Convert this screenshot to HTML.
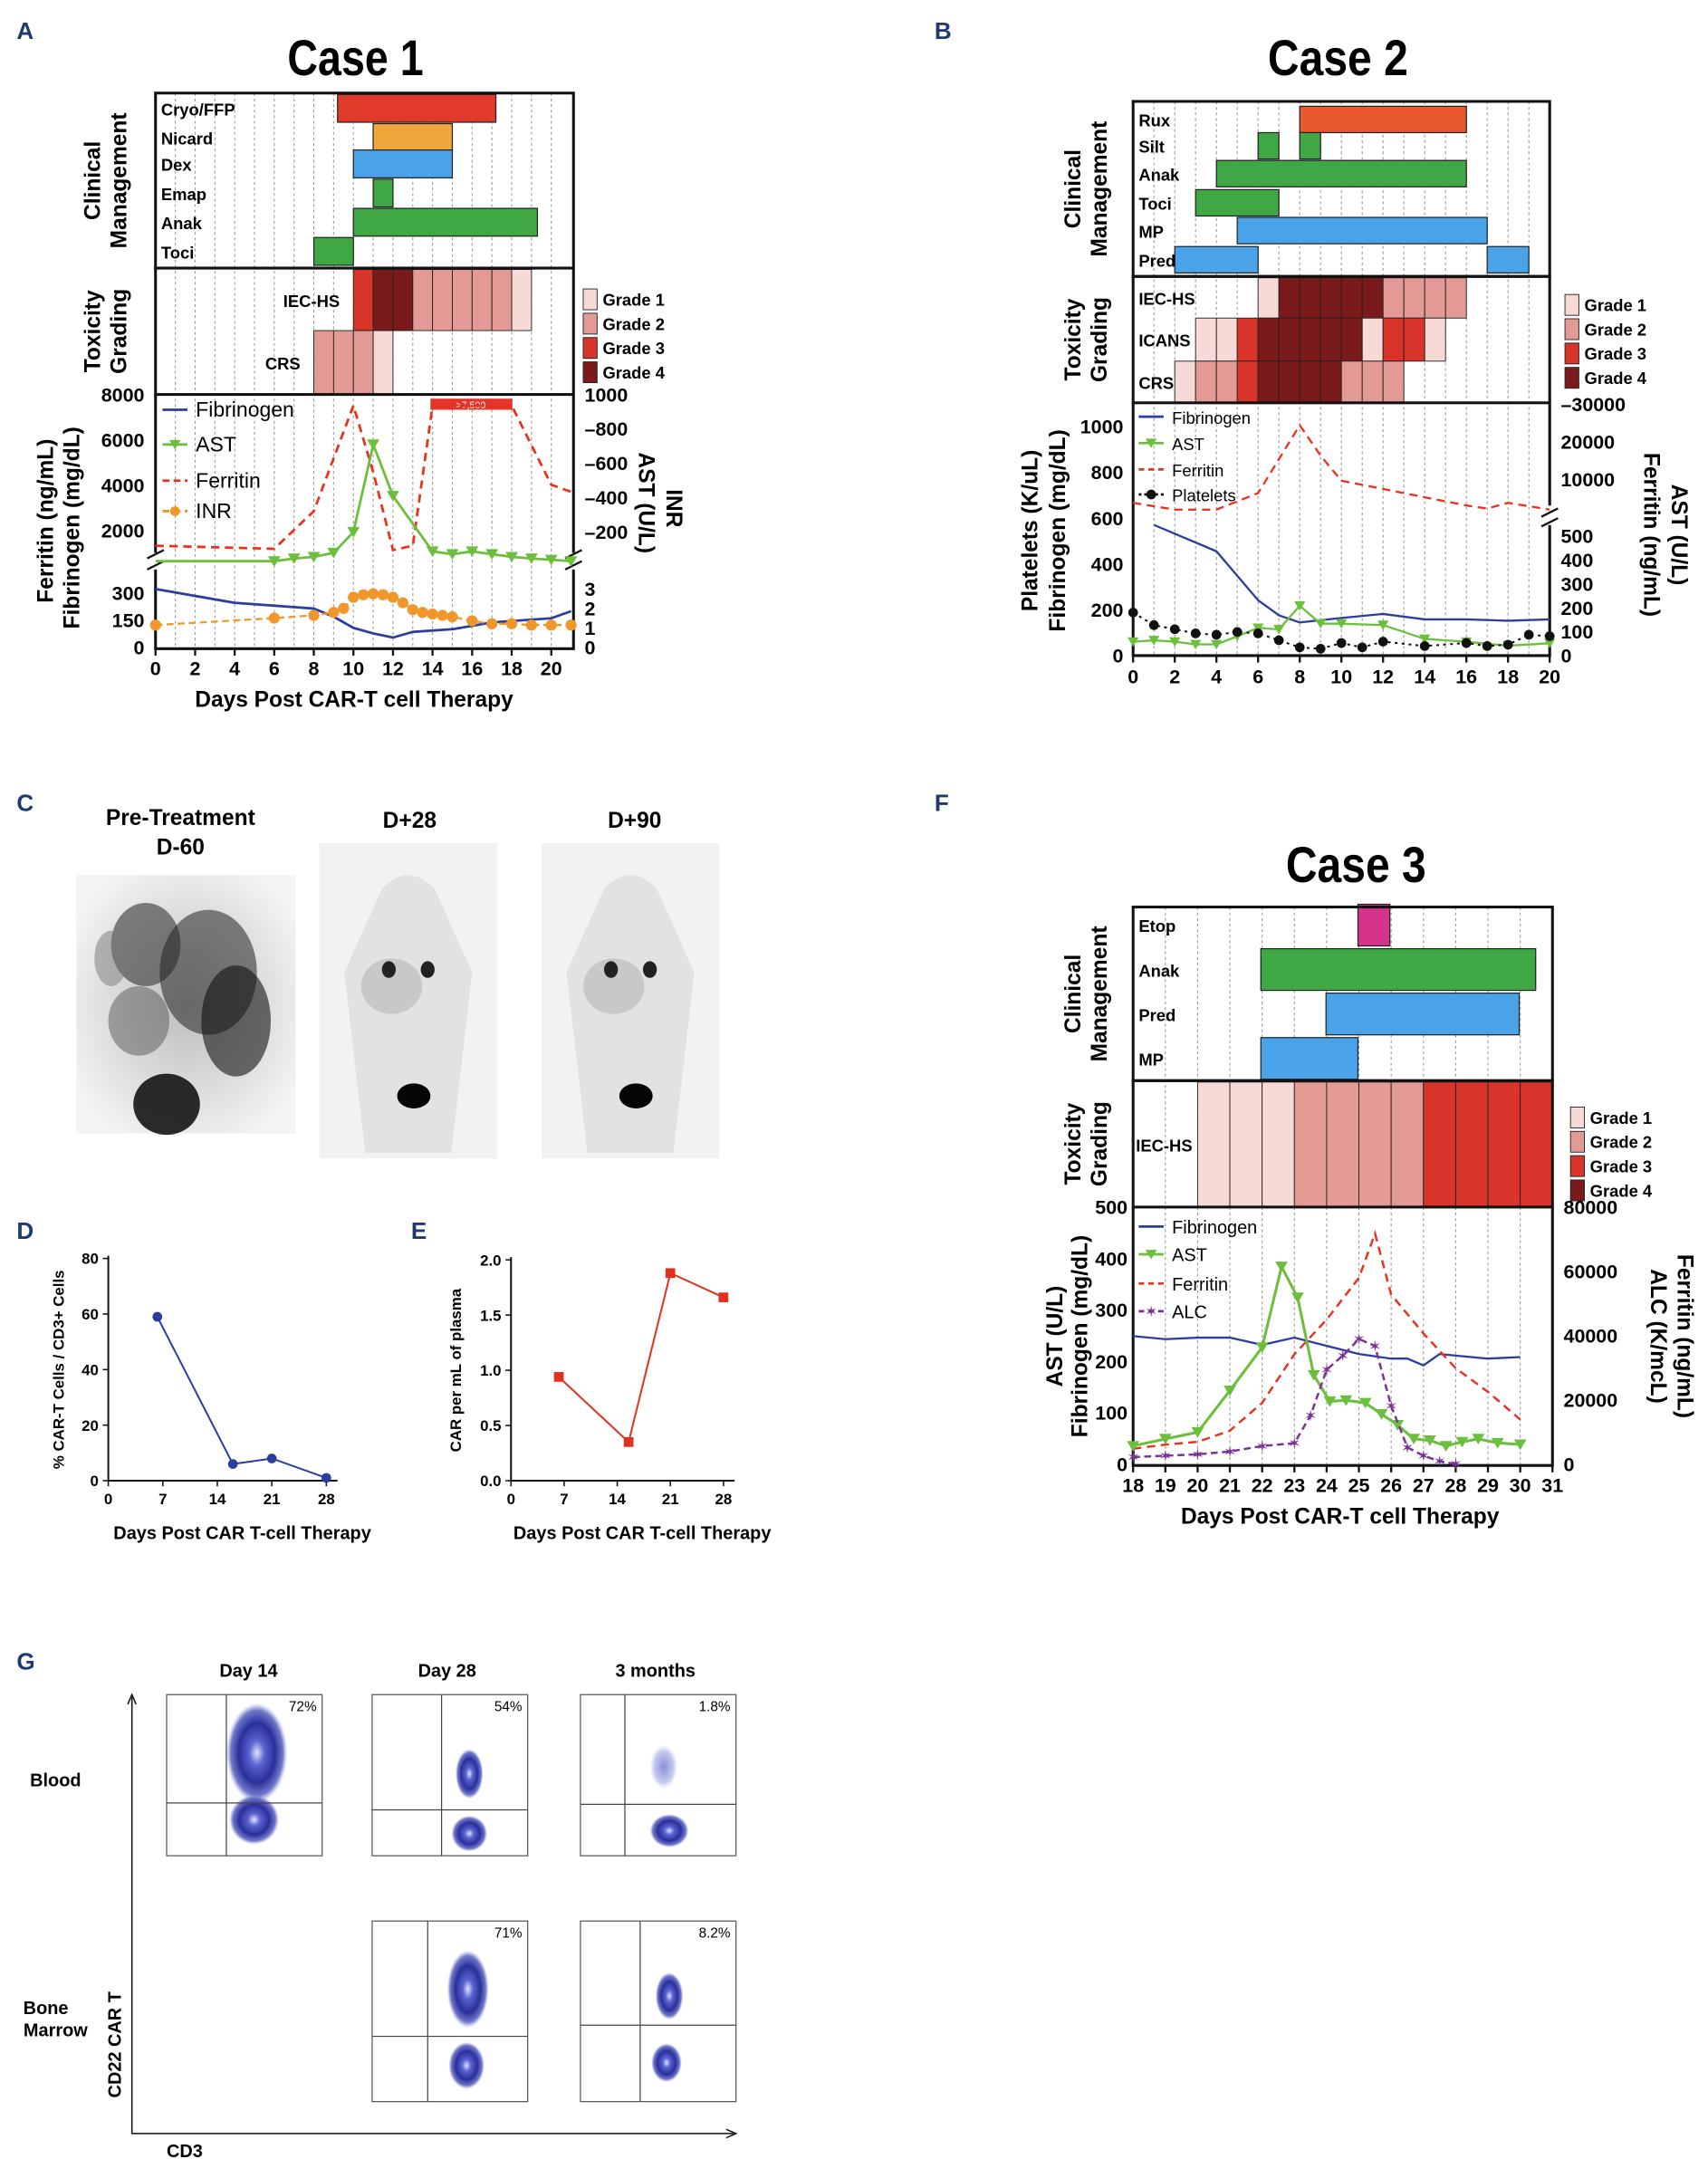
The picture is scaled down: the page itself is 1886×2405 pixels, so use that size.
<!DOCTYPE html>
<html><head><meta charset="utf-8"><style>
html,body{margin:0;padding:0;background:#fff}
svg{display:block}
text{font-family:"Liberation Sans",sans-serif}
.b{font-weight:bold}
</style></head><body>
<svg id="fig" xmlns="http://www.w3.org/2000/svg" width="1886" height="2405" viewBox="0 0 1230 1568" preserveAspectRatio="none">
<defs>
<radialGradient id="blob" cx="50%" cy="50%" r="50%">
<stop offset="0%" stop-color="#dfe3ff"/><stop offset="25%" stop-color="#5a63d0"/><stop offset="60%" stop-color="#2a2f9a"/><stop offset="85%" stop-color="#4c55bb" stop-opacity="0.8"/><stop offset="100%" stop-color="#8a90d8" stop-opacity="0"/>
</radialGradient>
<radialGradient id="blobL" cx="50%" cy="50%" r="50%">
<stop offset="0%" stop-color="#6a72cf" stop-opacity="0.8"/><stop offset="70%" stop-color="#8b92da" stop-opacity="0.5"/><stop offset="100%" stop-color="#b0b5e8" stop-opacity="0"/>
</radialGradient>
<radialGradient id="pet" cx="50%" cy="50%" r="60%">
<stop offset="0%" stop-color="#bdbdbd"/><stop offset="100%" stop-color="#f4f4f4"/>
</radialGradient>
</defs>
<g id="letters" class="b" font-size="17" fill="#1f3a6e">
<text x="12" y="28">A</text>
<text x="673" y="28">B</text>
<text x="12" y="584">C</text>
<text x="673" y="584">F</text>
<text x="12" y="892">D</text>
<text x="296" y="892">E</text>
<text x="12" y="1202">G</text>
</g>
<text x="207" y="54" font-size="36" class="b" textLength="98" lengthAdjust="spacingAndGlyphs">Case 1</text>
<text x="913" y="54" font-size="36" class="b" textLength="101" lengthAdjust="spacingAndGlyphs">Case 2</text>
<text x="926" y="635" font-size="36" class="b" textLength="101" lengthAdjust="spacingAndGlyphs">Case 3</text>
<g id="chartlayer"></g>
</svg>
<script>
// ---------------- DATA ----------------
const gradeColors=['#fff','#f7d9d6','#e49a94','#d8342a','#7a1a1a'];
// Case 1
const aMgmtRows=['Cryo/FFP','Nicard','Dex','Emap','Anak','Toci'];
const aMgmtBars=[[[9.2,17.2]],[[11,15]],[[10,15]],[[11,12]],[[10,19.3]],[[8,10]]];
const aToxRows=['IEC-HS','CRS'];
const aToxStart=[10,8];
const aToxGrades=[[3,4,4,2,2,2,2,2,1],[2,2,2,1]];
const aXTicks=[0,2,4,6,8,10,12,14,16,18,20];
const aFerDays=[0,6,8,10,11,12,13,14,18,20,21];
const aFerVals=[1330,1200,2860,7510,4570,1140,1330,7510,7510,4020,3710];
const aAstDays=[0,6,7,8,9,10,11,12,14,15,16,17,18,19,20,21];
const aAstVals=[30,30,46,55,79,200,709,410,87,71,87,71,55,46,38,30];
const aFibDays=[0,4,8,9,10,11,12,13,15,17,20,21];
const aFibVals=[323,246,215,169,108,77,54,85,100,138,161,200];
const aInrDays=[0,6,8,9,9.5,10,10.5,11,11.5,12,12.5,13,13.5,14,14.5,15,16,17,18,19,20,21];
const aInrVals=[1.14,1.5,1.64,1.79,2.0,2.57,2.7,2.75,2.7,2.57,2.29,1.93,1.79,1.71,1.64,1.57,1.36,1.21,1.21,1.14,1.14,1.14];
const aLeftTicksHi=[8000,6000,4000,2000];
const aLeftTicksLo=[300,150,0];
const aRightTicksHi=[1000,800,600,400,200];
const aRightTicksLo=[3,2,1,0];
// Case 2
const bMgmtRows=['Rux','Silt','Anak','Toci','MP','Pred'];
const bMgmtBars=[[[8,16]],[[6,7],[8,9]],[[4,16]],[[3,7]],[[5,17]],[[2,6],[17,19]]];
const bMgmtColors=['#e8572f','#3fa845','#3fa845','#3fa845','#4aa3e8','#4aa3e8'];
const bToxRows=['IEC-HS','ICANS','CRS'];
const bToxStart=[6,3,2];
const bToxGrades=[[1,4,4,4,4,4,2,2,2,2],[1,1,3,4,4,4,4,4,1,3,3,1],[1,2,2,3,4,4,4,4,2,2,2]];
const bXTicks=[0,2,4,6,8,10,12,14,16,18,20];
const bFibDays=[1,4,6,7,8,10,12,14,16,18,20];
const bFibVals=[570,455,242,176,145,164,182,158,158,152,158];
const bFerDays=[0,2,4,6,8,9,10,12,14,16,17,18,20];
const bFerVals=[3700,1900,1900,6300,24400,16300,9600,7400,5200,3000,2200,3700,1900];
const bAstDays=[0,1,2,3,4,5,6,7,8,9,10,12,14,16,18,20];
const bAstVals=[58,64,58,47,47,81,116,110,209,134,134,128,70,58,41,52];
const bPltDays=[0,1,2,3,4,5,6,7,8,9,10,11,12,14,16,17,18,19,20];
const bPltVals=[188,133,115,97,91,103,97,67,36,30,55,36,61,42,55,42,48,91,85];
const bLeftTicks=[1000,800,600,400,200,0];
const bRightTicksHi=[30000,20000,10000];
const bRightTicksLo=[500,400,300,200,100,0];
// Case 3
const fMgmtRows=['Etop','Anak','Pred','MP'];
const fMgmtBars=[[[24.97,25.96]],[[21.96,30.48]],[[23.98,29.97]],[[21.96,24.97]]];
const fMgmtColors=['#d6338a','#3fa845','#4aa3e8','#4aa3e8'];
const fToxStart=20;
const fToxGrades=[1,1,1,2,2,2,2,3,3,3,3];
const fXTicks=[18,19,20,21,22,23,24,25,26,27,28,29,30,31];
const fFibDays=[18,19,20,21,22,23,24,25,26,26.5,27,27.5,28,29,30];
const fFibVals=[249,243,246,246,232,246,230,214,205,205,192,214,211,205,208];
const fAstDays=[18,19,20,21,22,22.6,23.1,23.6,24.1,24.6,25.2,25.7,26.2,26.7,27.2,27.7,28.2,28.7,29.3,30];
const fAstVals=[35,49,62,143,227,384,324,173,122,124,119,97,76,49,46,35,43,49,41,38];
const fFerDays=[18,19,20,21,22,23,24,25,25.5,26,27,28,29,30];
const fFerVals=[4760,6050,6920,10380,19030,34160,44970,57950,71780,52760,40650,29840,22490,13840];
const fAlcDays=[18,19,20,21,22,23,23.5,24,24.5,25,25.5,26,26.5,27,27.5,28];
const fAlcVals=[2160,2590,3030,3890,5620,6490,15140,29410,33730,38920,36760,18160,5190,2590,860,0];
const fLeftTicks=[500,400,300,200,100,0];
const fRightTicks=[80000,60000,40000,20000,0];
// D / E
const dDays=[6.3,16,21,28];
const dVals=[59,6,8,1];
const dYTicks=[0,20,40,60,80];
const eDays=[6.3,15.5,21,28];
const eVals=[0.94,0.35,1.88,1.66];
const eYTicks=[0.0,0.5,1.0,1.5,2.0];
const deXTicks=[0,7,14,21,28];
// G
const gPct=['72%','54%','1.8%','71%','8.2%'];

// ---------------- HELPERS ----------------
const NS='http://www.w3.org/2000/svg';
const root=document.getElementById('chartlayer');
function mk(tag,a){const e=document.createElementNS(NS,tag);for(const k in a)e.setAttribute(k,a[k]);root.appendChild(e);return e;}
function txt(x,y,s,size,anchor,extra){const e=mk('text',Object.assign({x:x,y:y,'font-size':size,'text-anchor':anchor||'start','font-weight':'bold'},extra||{}));e.textContent=s;return e;}
function pathD(pts){return pts.map((p,i)=>(i?'L':'M')+p[0].toFixed(1)+','+p[1].toFixed(1)).join(' ');}
let e;

function timeline(cfg){
  const {x,x0,x1,yM0,yM1,yT1,rows,bars,colors,rowY,barH,toxRows,toxStart,toxGrades,toxRowY,nDays,d0,legX,legY,pfx}=cfg;
  for(let d=d0+1; d<d0+nDays; d++){
    e=mk('line',{x1:x(d),x2:x(d),y1:yM0,y2:cfg.yGridEnd,stroke:'#999','stroke-width':0.7,'stroke-dasharray':'2,2'});
    
    
  }
  rows.forEach((r,i)=>{
    bars[i].forEach(b=>{
      e=mk('rect',{x:x(b[0]),y:rowY[i]-barH/2,width:x(b[1])-x(b[0]),height:barH,fill:colors[i],stroke:'#222','stroke-width':0.8});
      
      
    });
    e=txt(x0+4,rowY[i]+5,r,12);
    
    
  });
  toxRows.forEach((r,i)=>{
    const [t0,t1]=toxRowY[i];
    toxGrades[i].forEach((g,j)=>{
      const d=toxStart[i]+j;
      e=mk('rect',{x:x(d),y:t0,width:x(d+1)-x(d),height:t1-t0,fill:gradeColors[g],stroke:'#222','stroke-width':0.6});
      
      
    });
    e=txt(cfg.toxLabelX[i],(t0+t1)/2+5,r,12);
    
    
  });
  e=mk('rect',{x:x0,y:yM0,width:x1-x0,height:yM1-yM0,fill:'none',stroke:'#111','stroke-width':2});
  
  
  e=mk('rect',{x:x0,y:yM1,width:x1-x0,height:yT1-yM1,fill:'none',stroke:'#111','stroke-width':2});
  
  
  for(let g=1; g<=4; g++){
    e=mk('rect',{x:legX,y:legY+(g-1)*17.5-6,width:10,height:15,fill:gradeColors[g],stroke:'#222','stroke-width':0.6});
    
    
    e=txt(legX+14,legY+(g-1)*17.5+6,'Grade '+g,12);
    
    
  }
  const lx=cfg.labX;
  [['Clinical','Management',(yM0+yM1)/2],['Toxicity','Grading',(yM1+yT1)/2]].forEach(l=>{
    e=txt(lx,l[2],l[0],16,'middle',{transform:`rotate(-90 ${lx} ${l[2]})`});
    
    
    e=txt(lx+19,l[2],l[1],16,'middle',{transform:`rotate(-90 ${lx+19} ${l[2]})`});
    
    
  });
}
function series(pts,color,dash,pfx,name,width){
  e=mk('path',{d:pathD(pts),fill:'none',stroke:color,'stroke-width':width||1.8,'stroke-dasharray':dash||'none'});
  
  
}
function tri(px,py,color,pfx,name,s){
  s=s||4.5;
  e=mk('path',{d:`M${px-s},${py-s*0.8} L${px+s},${py-s*0.8} L${px},${py+s*0.9} Z`,fill:color});
  
  
}
function dot(px,py,r,color,pfx,name){
  e=mk('circle',{cx:px,cy:py,r:r,fill:color});
  
  
}
function legendItem(x,y,label,color,dash,marker,size,pfx){
  e=mk('line',{x1:x,x2:x+18,y1:y,y2:y,stroke:color,'stroke-width':1.8,'stroke-dasharray':dash||'none'});
  
  
  if(marker==='tri')tri(x+9,y,color,pfx,'legend',4);
  if(marker==='dot')dot(x+9,y,3.5,color,pfx,'legend');
  if(marker==='star'){e=txt(x+9,y+4,'✶',11,'middle',{fill:color,'font-weight':'normal'});}
  e=txt(x+24,y+5,label,size,'start',{'font-weight':'normal'});
  
  
}

// ---------------- CASE 1 ----------------
const xA=d=>112+d*14.25;
const yAFer=v=>284+(8000-v)*0.016333;
const yAAst=v=>284+(1000-v)*0.12375;
const yAFib=v=>466-v*0.13;
const yAInr=v=>466-v*14;
timeline({x:xA,x0:112,x1:413,yM0:67,yM1:193,yT1:284,yGridEnd:467,rows:aMgmtRows,bars:aMgmtBars,
  colors:['#e03a2a','#f0a63a','#4aa3e8','#3fa845','#3fa845','#3fa845'],rowY:[78,99,118,139,160,181],barH:20,
  toxRows:aToxRows,toxStart:aToxStart,toxGrades:aToxGrades,toxRowY:[[194,238],[238,284]],toxLabelX:[204,191],
  nDays:21,d0:0,legX:420,legY:214,labX:72,pfx:'case1'});
e=mk('path',{d:'M112,284 L112,398 M112,410 L112,467 L413,467 L413,410 M413,398 L413,284',fill:'none',stroke:'#111','stroke-width':2});


e=mk('path',{d:'M106,402 L118,396 M106,410 L118,404 M407,402 L419,396 M407,410 L419,404',stroke:'#111','stroke-width':1.5});


aXTicks.forEach(t=>{e=txt(xA(t),486,String(t),14,'middle');
  e=mk('line',{x1:xA(t),x2:xA(t),y1:467,y2:472,stroke:'#111','stroke-width':1.5});});
aLeftTicksHi.forEach(t=>{e=txt(104,yAFer(t)+5,String(t),14,'end');});
aLeftTicksLo.forEach(t=>{e=txt(104,yAFib(t)+5,String(t),14,'end');});
aRightTicksHi.forEach(t=>{e=txt(421,yAAst(t)+5,(t===1000?'':'–')+t,14,'start');});
aRightTicksLo.forEach(t=>{e=txt(421,yAInr(t)+5,String(t),14,'start');});
e=txt(255,509,'Days Post CAR-T cell Therapy',16,'middle');
e=txt(38,375,'Ferritin (ng/mL)',16,'middle',{transform:'rotate(-90 38 375)'});
e=txt(57,380,'Fibrinogen (mg/dL)',16,'middle',{transform:'rotate(-90 57 380)'});
e=txt(460,362,'AST (U/L)',16,'middle',{transform:'rotate(90 460 362)'});
e=txt(480,366,'INR',16,'middle',{transform:'rotate(90 480 366)'});
e=mk('rect',{x:310,y:287,width:59,height:8,fill:'#e5342a'});
e=txt(339,294,'>7,500',7,'middle',{fill:'#fff','font-weight':'normal'});
series(aFerDays.map((d,i)=>[xA(d),yAFer(aFerVals[i])]),'#e8321e','6,4','case1','ferritin');
series(aFibDays.map((d,i)=>[xA(d),yAFib(aFibVals[i])]),'#2b3ea0',null,'case1','fibrinogen');
series(aAstDays.map((d,i)=>[xA(d),yAAst(aAstVals[i])]),'#6cbf3c',null,'case1','ast');
aAstDays.forEach((d,i)=>{if(d>=6)tri(xA(d),yAAst(aAstVals[i]),'#6cbf3c','case1','ast');});
series(aInrDays.map((d,i)=>[xA(d),yAInr(aInrVals[i])]),'#f0962a','5,3','case1','inr',1.5);
aInrDays.forEach((d,i)=>dot(xA(d),yAInr(aInrVals[i]),4,'#f0962a','case1','inr'));
legendItem(117,295,'Fibrinogen','#2b3ea0',null,null,15,'case1');
legendItem(117,320,'AST','#6cbf3c',null,'tri',15,'case1');
legendItem(117,346,'Ferritin','#e8321e','5,3',null,15,'case1');
legendItem(117,368,'INR','#f0962a','5,3','dot',15,'case1');

// ---------------- CASE 2 ----------------
const xB=d=>816+d*15;
const yBL=v=>472-v*0.165;
const yBRlo=v=>472-v*0.172;
const yBRhi=v=>291+(30000-v)*0.0027;
timeline({x:xB,x0:816,x1:1116,yM0:73,yM1:199,yT1:290,yGridEnd:472,rows:bMgmtRows,bars:bMgmtBars,
  colors:bMgmtColors,rowY:[86,105,125,146,166,187],barH:19,
  toxRows:bToxRows,toxStart:bToxStart,toxGrades:bToxGrades,toxRowY:[[200,229],[229,260],[260,290]],toxLabelX:[820,820,820],
  nDays:20,d0:0,legX:1127,legY:218,labX:778,pfx:'case2'});
e=mk('path',{d:'M816,290 L816,472 L1116,472 L1116,378 M1116,364 L1116,290',fill:'none',stroke:'#111','stroke-width':2});


e=mk('path',{d:'M1110,372 L1122,366 M1110,379 L1122,373',stroke:'#111','stroke-width':1.5});


bXTicks.forEach(t=>{e=txt(xB(t),492,String(t),14,'middle');
  e=mk('line',{x1:xB(t),x2:xB(t),y1:472,y2:477,stroke:'#111','stroke-width':1.5});});
bLeftTicks.forEach(t=>{e=txt(809,yBL(t)+5,String(t),14,'end');});
bRightTicksHi.forEach(t=>{e=txt(1124,yBRhi(t)+5,(t===30000?'–':'')+t,14,'start');});
bRightTicksLo.forEach(t=>{e=txt(1124,yBRlo(t)+5,String(t),14,'start');});
e=txt(747,382,'Platelets (K/uL)',16,'middle',{transform:'rotate(-90 747 382)'});
e=txt(767,382,'Fibrinogen (mg/dL)',16,'middle',{transform:'rotate(-90 767 382)'});
e=txt(1184,385,'Ferritin (ng/mL)',16,'middle',{transform:'rotate(90 1184 385)'});
e=txt(1204,385,'AST (U/L)',16,'middle',{transform:'rotate(90 1204 385)'});
series(bFerDays.map((d,i)=>[xB(d),yBRhi(bFerVals[i])]),'#e8321e','6,4','case2','ferritin',1.5);
series(bFibDays.map((d,i)=>[xB(d),yBL(bFibVals[i])]),'#2b3ea0',null,'case2','fibrinogen',1.5);
series(bAstDays.map((d,i)=>[xB(d),yBRlo(bAstVals[i])]),'#6cbf3c',null,'case2','ast',1.5);
bAstDays.forEach((d,i)=>tri(xB(d),yBRlo(bAstVals[i]),'#6cbf3c','case2','ast',4));
series(bPltDays.map((d,i)=>[xB(d),yBL(bPltVals[i])]),'#111','2,3','case2','platelets',1.3);
bPltDays.forEach((d,i)=>dot(xB(d),yBL(bPltVals[i]),3.5,'#111','case2','platelets'));
legendItem(820,300,'Fibrinogen','#2b3ea0',null,null,12,'case2');
legendItem(820,319,'AST','#6cbf3c',null,'tri',12,'case2');
legendItem(820,338,'Ferritin','#e8321e','4,3',null,12,'case2');
legendItem(820,356,'Platelets','#111','2,2','dot',12,'case2');

// ---------------- CASE 3 ----------------
const xF=d=>816+(d-18)*23.23;
const yFL=v=>1054-v*0.37;
const yFR=v=>1054-v*0.0023125;
timeline({x:xF,x0:816,x1:1118,yM0:653,yM1:778,yT1:869,yGridEnd:1054,rows:fMgmtRows,bars:fMgmtBars,
  colors:fMgmtColors,rowY:[666,698,730,762],barH:30,
  toxRows:['IEC-HS'],toxStart:[fToxStart],toxGrades:[fToxGrades],toxRowY:[[779,869]],toxLabelX:[818],
  nDays:13,d0:18,legX:1131,legY:803,labX:778,pfx:'case3'});
e=mk('path',{d:'M816,869 L816,1055 L1118,1055 L1118,869',fill:'none',stroke:'#111','stroke-width':2});


fXTicks.forEach(t=>{e=txt(xF(t),1074,String(t),14,'middle');
  e=mk('line',{x1:xF(t),x2:xF(t),y1:1055,y2:1060,stroke:'#111','stroke-width':1.5});});
fLeftTicks.forEach(t=>{e=txt(812,yFL(t)+5,String(t),14,'end');});
fRightTicks.forEach(t=>{e=txt(1126,yFR(t)+5,String(t),14,'start');});
e=txt(965,1097,'Days Post CAR-T cell Therapy',16,'middle');
e=txt(765,962,'AST (U/L)',16,'middle',{transform:'rotate(-90 765 962)'});
e=txt(783,962,'Fibrinogen (mg/dL)',16,'middle',{transform:'rotate(-90 783 962)'});
e=txt(1189,962,'ALC (K/mcL)',16,'middle',{transform:'rotate(90 1189 962)'});
e=txt(1208,962,'Ferritin (ng/mL)',16,'middle',{transform:'rotate(90 1208 962)'});
series(fFibDays.map((d,i)=>[xF(d),yFL(fFibVals[i])]),'#2b3ea0',null,'case3','fibrinogen',1.5);
series(fFerDays.map((d,i)=>[xF(d),yFR(fFerVals[i])]),'#e8321e','6,4','case3','ferritin',1.6);
series(fAstDays.map((d,i)=>[xF(d),yFL(fAstVals[i])]),'#6cbf3c',null,'case3','ast',2);
fAstDays.forEach((d,i)=>tri(xF(d),yFL(fAstVals[i]),'#6cbf3c','case3','ast',4.5));
series(fAlcDays.map((d,i)=>[xF(d),yFR(fAlcVals[i])]),'#7b3296','5,3','case3','alc',1.6);
fAlcDays.forEach((d,i)=>{e=txt(xF(d),yFR(fAlcVals[i])+4,'✶',11,'middle',{fill:'#7b3296','font-weight':'normal'});});
legendItem(820,883,'Fibrinogen','#2b3ea0',null,null,13,'case3');
legendItem(820,903,'AST','#6cbf3c',null,'tri',13,'case3');
legendItem(820,924,'Ferritin','#e8321e','4,3',null,13,'case3');
legendItem(820,944,'ALC','#7b3296','4,3','star',13,'case3');

// ---------------- D & E ----------------
function smallChart(cfg){
  const {x0,x1,y0,y1,xmax,ymax,days,vals,yticks,color,pfx,fmt,ylab,ylabX}=cfg;
  const xs=d=>x0+d/xmax*(x1-x0);
  const ys=v=>y0-v/ymax*(y0-y1);
  e=mk('path',{d:`M${x0},${y1-2} L${x0},${y0} L${x1+8},${y0}`,fill:'none',stroke:'#111','stroke-width':1.3});
  
  
  deXTicks.forEach(t=>{e=mk('line',{x1:xs(t),x2:xs(t),y1:y0,y2:y0+4,stroke:'#111'});
    e=txt(xs(t),y0+17,String(t),11,'middle');});
  yticks.forEach(t=>{e=mk('line',{x1:x0-4,x2:x0,y1:ys(t),y2:ys(t),stroke:'#111'});
    e=txt(x0-7,ys(t)+4,fmt(t),11,'end');});
  series(days.map((d,i)=>[xs(d),ys(vals[i])]),color,null,pfx,'series',1.3);
  days.forEach((d,i)=>{
    if(cfg.square){e=mk('rect',{x:xs(d)-3.5,y:ys(vals[i])-3.5,width:7,height:7,fill:color});}
    else{e=mk('circle',{cx:xs(d),cy:ys(vals[i]),r:3.5,fill:color});}
    
    
  });
  e=txt((x0+x1)/2+18,y0+42,'Days Post CAR  T-cell Therapy',13,'middle');
  const cy=(y0+y1)/2;
  e=txt(ylabX,cy,ylab,11,'middle',{transform:`rotate(-90 ${ylabX} ${cy})`});
}
smallChart({x0:78,x1:235,y0:1066,y1:906,xmax:28,ymax:80,days:dDays,vals:dVals,yticks:dYTicks,color:'#2b3ea0',pfx:'panel-d',fmt:t=>String(t),ylab:'% CAR-T Cells / CD3+ Cells',ylabX:46});
smallChart({x0:368,x1:521,y0:1066,y1:907,xmax:28,ymax:2,days:eDays,vals:eVals,yticks:eYTicks,color:'#e0301e',pfx:'panel-e',fmt:t=>t.toFixed(1),ylab:'CAR per mL of plasma',ylabX:332,square:true});

// ---------------- C (PET images) ----------------
[['Pre-Treatment',130,594],['D-60',130,615],['D+28',295,596],['D+90',457,596]].forEach(l=>{e=txt(l[1],l[2],l[0],16,'middle');});
e=mk('rect',{x:55,y:630,width:158,height:186,fill:'url(#pet)'});
[[105,680,25,30,'#333',0.6],[150,700,35,45,'#222',0.55],[170,735,25,40,'#111',0.6],[100,735,22,25,'#555',0.5],[120,795,24,22,'#080808',0.85],[80,690,12,20,'#777',0.5]].forEach(b=>{e=mk('ellipse',{cx:b[0],cy:b[1],rx:b[2],ry:b[3],fill:b[4],opacity:b[5]});});
[[230,'d28'],[390,'d90']].forEach(p=>{
  const x=p[0];
  e=mk('rect',{x:x,y:607,width:128,height:227,fill:'#f2f2f2'});
  e=mk('path',{d:`M${x+45},640 Q${x+64},620 ${x+83},640 L${x+110},700 L${x+95},830 L${x+33},830 L${x+18},700 Z`,fill:'#e2e2e2'});
  e=mk('ellipse',{cx:x+52,cy:710,rx:22,ry:20,fill:'#c8c8c8'});
  e=mk('ellipse',{cx:x+50,cy:698,rx:5,ry:6,fill:'#222'});
  e=mk('ellipse',{cx:x+78,cy:698,rx:5,ry:6,fill:'#222'});
  e=mk('ellipse',{cx:x+68,cy:789,rx:12,ry:9,fill:'#050505'});
});

// ---------------- G (flow plots) ----------------
const gBoxes=[[120,1220,112,116,163,1298],[268,1220,112,116,318,1303],[418,1220,112,116,450,1299],[268,1383,112,130,308,1466],[418,1383,112,130,461,1458]];
const gBlobs=[[[185,1262,22,36,'blob'],[183,1310,18,18,'blob']],[[338,1277,10,18,'blob'],[338,1320,13,13,'blob']],[[478,1272,10,16,'blobL'],[482,1318,14,12,'blob']],[[337,1432,15,28,'blob'],[336,1487,13,17,'blob']],[[482,1437,10,17,'blob'],[480,1485,11,14,'blob']]];
gBoxes.forEach((b,i)=>{
  e=mk('rect',{x:b[0],y:b[1],width:b[2],height:b[3],fill:'#fff',stroke:'#555','stroke-width':0.8});
  gBlobs[i].forEach(bl=>{e=mk('ellipse',{cx:bl[0],cy:bl[1],rx:bl[2],ry:bl[3],fill:`url(#${bl[4]})`});});
  e=mk('line',{x1:b[4],x2:b[4],y1:b[1],y2:b[1]+b[3],stroke:'#444','stroke-width':0.8});
  e=mk('line',{x1:b[0],x2:b[0]+b[2],y1:b[5],y2:b[5],stroke:'#444','stroke-width':0.8});
  e=txt(b[0]+b[2]-4,b[1]+12,gPct[i],10,'end',{'font-weight':'normal'});
});
[['Day 14',179],['Day 28',322],['3 months',472]].forEach(l=>{e=txt(l[1],1207,l[0],13,'middle');});
e=txt(40,1286,'Blood',13,'middle');
e=txt(33,1450,'Bone',13,'middle');
e=txt(40,1466,'Marrow',13,'middle');
e=mk('path',{d:'M95,1222 L95,1536 L528,1536 M92,1227 L95,1220 L98,1227 M523,1533 L530,1536 L523,1539',fill:'none',stroke:'#111','stroke-width':1});
e=txt(87,1472,'CD22 CAR T',13,'middle',{transform:'rotate(-90 87 1472)'});
e=txt(133,1553,'CD3',13,'middle');
</script>
</body></html>
